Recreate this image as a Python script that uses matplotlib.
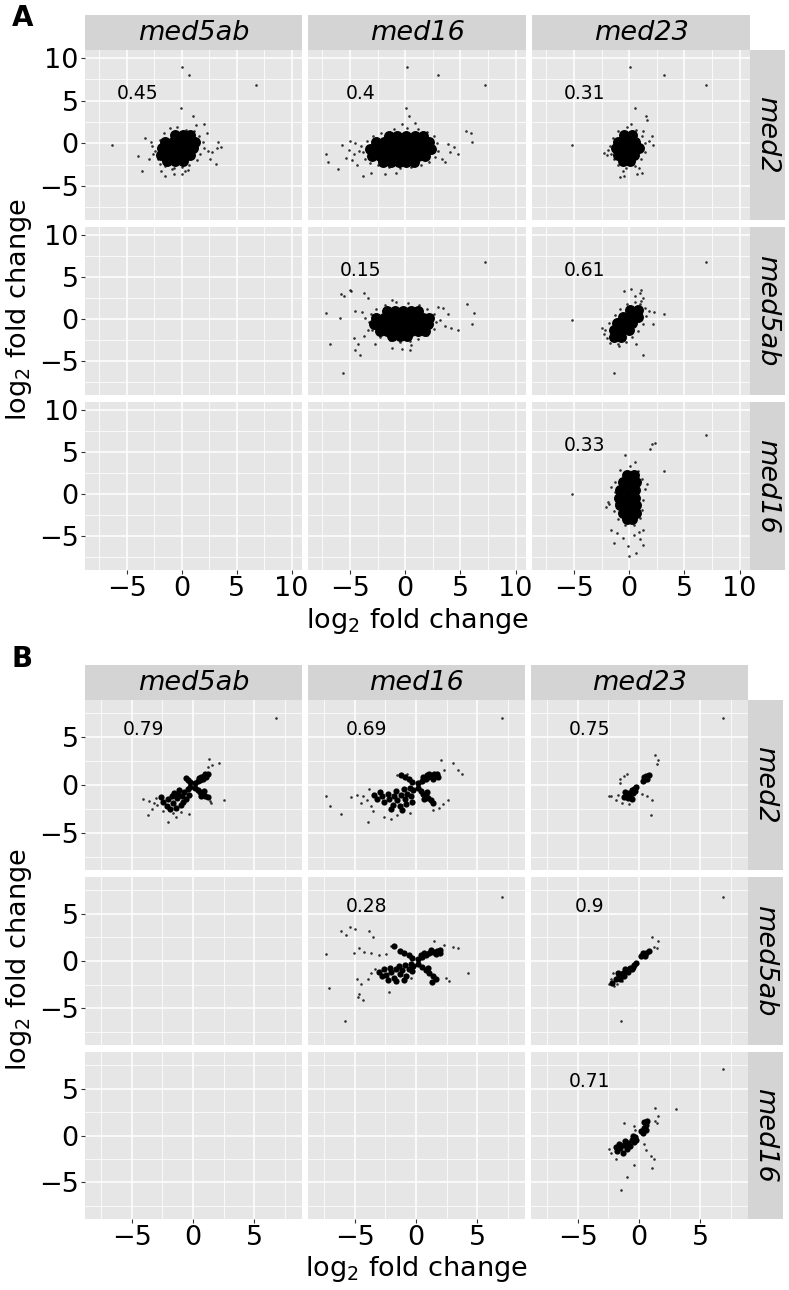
import numpy as np
import matplotlib.pyplot as plt

plt.rcParams['font.family'] = ['DejaVu Sans']
plt.rcParams['mathtext.fontset'] = 'dejavusans'

# ---------------- data (log2 fold change pairs) ----------------
col_genes = ['med5ab', 'med16', 'med23']
row_genes = ['med2', 'med5ab', 'med16']

# correlation labels, panel (row, col) -> text
corr_A = {(0, 0): '0.45', (0, 1): '0.4', (0, 2): '0.31', (1, 1): '0.15', (1, 2): '0.61', (2, 2): '0.33'}
corr_B = {(0, 0): '0.79', (0, 1): '0.69', (0, 2): '0.75', (1, 1): '0.28', (1, 2): '0.9', (2, 2): '0.71'}

# panel A, dense cores and sparse points
a11_core = [(-0.6, 1.0), (0.1, 1.0), (0.8, 1.0),
            (-1.5, 0.2), (-0.8, 0.2), (-0.1, 0.2), (0.6, 0.2), (1.2, 0.2),
            (-1.8, -0.6), (-1.1, -0.6), (-0.4, -0.6), (0.3, -0.6), (1.0, -0.6),
            (-1.9, -1.4), (-1.2, -1.4), (-0.5, -1.4), (0.2, -1.4), (0.8, -1.4),
            (-1.3, -2.1), (-0.6, -2.1), (0.1, -2.1)]
a11_pts = [(-2.4, -0.9), (-2.2, -1.8), (-2.6, -1.2), (-2.0, 0.4), (-1.6, 1.2), (-1.1, 1.8), (-0.4, 1.9),
           (0.4, 1.6), (1.1, 1.4), (1.6, 0.9), (1.9, 0.2), (2.0, -0.5), (1.7, -1.2), (1.4, -2.0),
           (0.7, -2.6), (0.0, -2.8), (-0.7, -2.9), (-1.5, -2.7), (-2.0, -2.4), (-2.7, -0.3), (2.3, 1.2),
           (1.3, 2.1), (-0.9, -3.0), (-1.9, -3.3), (0.3, -3.2), (2.4, -0.9), (-3.0, -1.9), (-2.8, 0.1),
           (0.0, 9.0), (0.7, 8.0), (6.8, 6.9), (-0.06, 4.2), (1.0, 3.2), (2.0, 2.3), (-6.3, -0.15),
           (-3.3, 0.6), (-3.6, -3.2), (-4.0, -1.5), (3.6, -0.4), (3.1, -2.4), (3.3, 0.2), (2.8, -1.0),
           (-1.5, -3.8), (-0.7, -3.6), (0.0, -3.6), (0.6, -3.1), (3.2, -0.6), (2.6, -1.9)]

a12_core = [(-1.5, 0.9), (-0.7, 0.9), (0.1, 0.9), (0.9, 0.9), (1.6, 0.9),
            (-2.6, 0.1), (-1.9, 0.1), (-1.2, 0.1), (-0.5, 0.1), (0.2, 0.1), (0.9, 0.1), (1.6, 0.1), (2.2, 0.1),
            (-3.2, -0.7), (-2.5, -0.7), (-1.8, -0.7), (-1.1, -0.7), (-0.4, -0.7), (0.3, -0.7), (1.0, -0.7),
            (1.7, -0.7), (2.3, -0.7),
            (-3.0, -1.5), (-2.3, -1.5), (-1.6, -1.5), (-0.9, -1.5), (-0.2, -1.5), (0.5, -1.5), (1.2, -1.5),
            (1.8, -1.5),
            (-2.0, -2.2), (-1.3, -2.2), (-0.6, -2.2), (0.1, -2.2), (0.8, -2.2)]
a12_pts = [(-3.8, -1.0), (-4.0, -0.3), (-3.6, -1.8), (-3.5, 0.3), (-2.9, 0.9), (-2.2, 1.2), (-1.0, 1.7),
           (0.2, 1.8), (1.2, 1.7), (2.0, 1.3), (2.6, 0.8), (2.9, 0.0), (3.0, -0.9), (2.7, -1.6), (2.2, -2.2),
           (1.4, -2.6), (0.5, -2.8), (-0.5, -2.9), (-1.5, -2.8), (-2.5, -2.6), (-3.2, -2.3), (-0.3, 2.3),
           (0.9, 2.4),
           (0.2, 9.0), (3.0, 8.0), (7.2, 6.9), (0.1, 4.2), (0.33, 3.2), (5.5, 1.4), (6.0, 1.25), (6.1, 0.1),
           (4.8, -1.3), (4.4, -0.4), (3.6, -2.2), (3.9, -0.1), (4.1, -1.0), (3.3, -1.8), (-7.2, -1.3),
           (-7.0, -2.2), (-6.1, -3.0), (-5.7, -0.15), (-5.0, 0.3), (-3.8, -3.8), (-4.8, -2.0), (-5.4, -1.7),
           (-4.2, -0.9), (-4.6, -1.2), (-5.1, -0.8), (-4.4, -2.6), (-3.1, -3.5), (-1.8, -3.6), (-0.8, -3.5),
           (-4.5, 0.0)]

a13_core = [(-0.5, 1.0), (0.3, 1.0),
            (-1.0, 0.2), (-0.3, 0.2), (0.5, 0.2),
            (-1.2, -0.6), (-0.5, -0.6), (0.2, -0.6), (0.9, -0.6),
            (-1.0, -1.4), (-0.3, -1.4), (0.4, -1.4),
            (-0.6, -2.1), (0.1, -2.1)]
a13_pts = [(-1.7, -0.3), (-1.6, -1.2), (-1.5, 0.6), (-1.0, 1.5), (-0.2, 1.9), (0.6, 1.6), (1.2, 0.9),
           (1.4, 0.0), (1.4, -1.0), (1.1, -1.9), (0.5, -2.7), (-0.3, -2.9), (-1.0, -2.6), (-1.4, -1.9),
           (-1.9, -0.8), (0.9, -2.9), (-0.6, -3.3), (1.3, 1.5), (0.2, 2.3), (-2.0, -1.4),
           (0.05, 9.0), (3.2, 8.0), (7.0, 6.9), (-5.2, -0.2), (0.5, 4.2), (1.5, 3.2), (1.6, 2.7),
           (2.2, -0.15), (2.1, 0.9), (-2.3, -1.1), (-0.8, -4.0), (0.7, -3.6), (1.2, -3.5), (-0.5, -3.8),
           (1.8, 0.3)]

a22_core = [(-1.6, 1.0), (-0.9, 1.0), (-0.2, 1.0), (0.5, 1.0), (1.2, 1.0),
            (-2.6, 0.2), (-1.9, 0.2), (-1.2, 0.2), (-0.5, 0.2), (0.2, 0.2), (0.9, 0.2), (1.6, 0.2), (2.2, 0.2),
            (-2.8, -0.6), (-2.1, -0.6), (-1.4, -0.6), (-0.7, -0.6), (0.0, -0.6), (0.7, -0.6), (1.4, -0.6),
            (2.1, -0.6),
            (-2.3, -1.4), (-1.6, -1.4), (-0.9, -1.4), (-0.2, -1.4), (0.5, -1.4), (1.2, -1.4), (1.8, -1.4),
            (-1.2, -2.0), (-0.5, -2.0), (0.2, -2.0)]
a22_pts = [(-3.3, -0.3), (-3.1, 0.6), (-2.6, 1.2), (-1.8, 1.7), (-0.8, 2.0), (0.3, 1.9), (1.3, 1.7),
           (2.0, 1.2), (2.6, 0.6), (2.8, -0.3), (2.6, -1.2), (2.0, -1.9), (1.2, -2.3), (0.4, -2.6),
           (-0.5, -2.7), (-1.4, -2.5), (-2.3, -2.1), (-3.0, -1.3), (-1.2, 2.3), (0.5, -3.1),
           (-7.15, 0.7), (-6.85, -2.9), (-5.6, -6.4), (-5.9, 0.1), (-5.8, 3.05), (-5.5, 2.7), (-5.0, 3.5),
           (-4.9, 3.4), (-3.7, 3.1), (-3.4, 2.5), (-4.5, 1.0), (-3.9, 0.8), (-4.6, -2.2), (-4.3, -2.9),
           (-4.1, -4.2), (-4.5, -3.6), (-3.7, -2.0), (-3.4, -1.3), (-2.7, -3.0), (3.0, 1.45), (3.45, 1.35),
           (3.9, 0.6), (3.6, -0.8), (4.2, -1.1), (4.8, -1.3), (5.6, 1.8), (6.2, 0.7), (6.1, -0.6),
           (7.2, 6.75), (0.4, -3.7), (-0.3, -3.5), (-1.2, -3.4), (3.2, -0.1), (-3.6, 0.2)]

a23_core = [(0.1, 1.1), (0.8, 1.1),
            (-0.6, 0.3), (0.1, 0.3), (0.8, 0.3),
            (-1.1, -0.5), (-0.4, -0.5), (0.3, -0.5),
            (-1.4, -1.3), (-0.7, -1.3), (0.0, -1.3),
            (-1.4, -2.1), (-0.7, -2.1)]
a23_pts = [(-2.2, -1.3), (-2.0, -2.2), (-1.8, -0.4), (-1.3, 0.5), (-0.8, 1.2), (-0.2, 1.8), (0.5, 2.0),
           (1.1, 2.2), (1.4, 1.3), (1.5, 0.4), (1.3, -0.6), (0.8, -1.4), (0.3, -2.1), (-0.3, -2.7),
           (-1.0, -2.9), (-1.7, -2.8), (-2.3, -1.8), (1.8, 1.0), (-0.9, -3.2), (0.6, -2.9), (0.5, 2.8),
           (1.0, 1.8),
           (7.0, 6.75), (-5.2, -0.1), (-1.35, -6.4), (1.25, -4.2), (3.15, 0.6), (2.25, 0.9), (2.2, -0.6),
           (0.2, 3.6), (1.1, 3.5), (0.95, 3.1), (1.3, 2.5), (-0.5, 3.3), (-2.5, -1.0)]

a33_core = [(-0.2, 2.3), (0.4, 2.3),
            (-0.6, 1.4), (0.0, 1.4), (0.6, 1.4),
            (-0.8, 0.5), (-0.1, 0.5), (0.5, 0.5),
            (-0.9, -0.4), (-0.2, -0.4), (0.5, -0.4),
            (-0.8, -1.3), (-0.1, -1.3), (0.6, -1.3),
            (-0.6, -2.2), (0.1, -2.2), (0.6, -2.2),
            (-0.2, -3.0), (0.3, -3.0)]
a33_pts = [(-1.3, 0.3), (-1.2, -1.0), (-1.3, 1.5), (-0.8, 2.9), (0.1, 3.3), (0.8, 2.8), (1.2, 1.8),
           (1.4, 0.6), (1.3, -0.7), (1.2, -1.9), (1.0, -2.8), (0.4, -3.6), (-0.4, -3.7), (-1.0, -3.0),
           (-1.4, -2.0), (-1.8, -1.2), (-2.1, -1.5), (-1.9, -0.9), (0.5, 3.8), (1.6, 1.2), (-1.6, 0.9),
           (7.0, 7.0), (-5.2, 0.0), (1.9, 5.4), (2.1, 6.0), (2.3, 6.05), (3.15, 2.75), (-0.35, 4.6),
           (-1.35, -5.8), (-0.1, -6.1), (0.65, -7.0), (0.0, -7.3), (1.25, -6.0), (0.95, -5.35),
           (-1.1, -4.6), (0.4, -4.8), (-0.6, -5.2), (1.3, -4.2), (-1.6, -4.3), (0.9, -4.5)]

# panel B
b11_core = [(-2.4, -1.8), (-2.0, -1.5), (-2.1, -2.2), (-1.7, -1.2), (-1.6, -1.9), (-1.3, -1.4), (-1.2, -0.9),
            (-1.0, -2.1), (-0.9, -1.2), (-0.7, -0.7), (-0.6, -1.5), (-0.4, -0.4), (-0.3, -1.0), (-0.2, -0.2),
            (-1.5, -0.8), (-1.9, -2.5), (-1.4, -2.4), (-0.8, -1.8), (-2.6, -1.3), (-1.1, -0.5),
            (0.2, 0.2), (0.4, 0.4), (0.6, 0.5), (0.7, 0.8), (0.9, 0.9), (1.0, 1.1), (1.2, 1.2), (0.5, 0.7),
            (0.8, 0.6), (1.1, 0.8),
            (0.2, -0.3), (0.4, -0.5), (0.6, -0.7), (0.8, -0.9), (1.0, -1.1), (1.2, -1.3), (0.9, -0.6),
            (0.7, -1.1), (-0.2, 0.3), (-0.4, 0.5), (-0.6, 0.7)]
b11_pts = [(6.8, 7.0), (-4.1, -1.5), (-3.7, -3.1), (-2.0, -3.9), (-1.4, -3.3), (-2.4, -2.7), (-1.0, -2.8),
           (2.55, -1.6), (2.1, 2.3), (1.35, 2.7), (1.55, 2.1), (1.2, 1.85), (-3.6, -1.7), (-3.2, -1.9),
           (-2.9, -2.1), (-3.0, -1.4), (1.4, -1.7), (1.5, -1.9), (-0.3, -3.0), (-1.6, -2.9), (-3.3, -2.5)]

b12_core = [(-3.2, -1.5), (-2.8, -1.2), (-2.6, -1.8), (-2.3, -0.9), (-2.2, -1.5), (-1.9, -2.1), (-1.8, -1.1),
            (-1.6, -0.6), (-1.5, -1.6), (-1.3, -2.2), (-1.2, -1.0), (-1.0, -0.4), (-0.9, -1.5), (-0.7, -0.9),
            (-0.5, -0.3), (-0.4, -1.2), (-0.2, -0.5), (-2.9, -0.7), (-3.4, -1.0), (-2.0, -2.5), (-0.8, -2.0),
            (-1.1, -2.6), (-0.3, -1.8),
            (0.2, 0.2), (0.5, 0.4), (0.8, 0.6), (1.0, 0.8), (1.3, 0.9), (1.5, 1.1), (1.7, 1.2), (0.6, 0.8),
            (1.1, 1.2), (1.4, 0.6), (1.8, 0.8), (0.9, 1.0),
            (0.2, -0.3), (0.4, -0.6), (0.6, -0.9), (0.8, -1.1), (1.0, -1.4), (1.2, -1.6), (0.9, -0.7),
            (1.4, -1.9), (0.7, -1.5),
            (-0.3, 0.3), (-0.6, 0.6), (-0.9, 0.8), (-1.2, 1.0)]
b12_pts = [(7.05, 7.0), (-7.3, -1.2), (-7.0, -2.2), (-6.1, -3.0), (-4.8, -1.05), (-4.3, -1.2), (-3.9, -3.9),
           (-4.0, -1.6), (-3.7, -2.2), (-4.5, -1.9), (-3.5, -2.7), (-2.6, -3.3), (-2.0, -3.6), (-1.5, -3.1),
           (-3.8, -0.4), (-5.3, -1.3), (2.05, 2.6), (3.0, 2.3), (3.4, 1.6), (3.8, 1.15), (2.6, -1.6),
           (1.4, -2.6), (2.2, -2.0), (-1.5, 1.05), (-0.7, 1.15), (2.3, 1.6), (1.9, -2.4), (-0.5, -2.9)]

b13_core = [(-1.2, -1.3), (-1.0, -1.0), (-0.8, -0.8), (-0.6, -0.5), (-0.4, -0.4), (-0.2, -0.2), (-0.9, -1.4),
            (-0.7, -1.1), (-0.5, -0.8), (-1.1, -0.7), (-0.3, -0.6), (-0.6, -1.5),
            (0.3, 0.4), (0.5, 0.6), (0.6, 0.9), (0.8, 1.0), (0.4, 0.8), (0.7, 0.6)]
b13_pts = [(6.9, 7.0), (1.3, 3.15), (1.55, 2.6), (1.5, 2.2), (0.95, -3.15), (-2.45, -1.15), (-2.25, -1.2),
           (-0.95, 1.2), (-1.2, 0.9), (-1.5, 0.6), (-1.55, 0.2), (0.25, -0.9), (0.7, -1.2), (1.1, -1.6),
           (-1.4, -1.9), (-1.7, -1.0), (-0.8, -2.0), (-1.9, -1.6)]

b22_core = [(-3.0, -1.2), (-2.6, -0.9), (-2.4, -1.5), (-2.1, -0.7), (-2.0, -1.2), (-1.8, -1.8), (-1.6, -0.9),
            (-1.4, -0.5), (-1.3, -1.4), (-1.1, -1.0), (-0.9, -0.4), (-0.8, -1.6), (-0.6, -0.8), (-0.4, -0.3),
            (-0.3, -1.1), (-0.2, -0.5), (-2.8, -1.6), (-1.6, -2.1), (-1.0, -2.0), (-2.3, -2.0),
            (0.2, 0.2), (0.5, 0.4), (0.8, 0.6), (1.1, 0.8), (1.4, 1.0), (1.7, 1.1), (2.0, 1.2), (0.7, 0.8),
            (1.2, 1.2), (1.6, 0.7), (2.0, 0.8), (0.4, 0.6),
            (0.2, -0.3), (0.5, -0.6), (0.8, -1.0), (1.1, -1.3), (1.4, -1.6), (1.6, -1.9), (1.0, -0.7),
            (1.3, -2.2),
            (-0.3, 0.3), (-0.6, 0.6), (-1.0, 0.9), (-1.3, 1.1), (-1.75, 1.57)]
b22_pts = [(7.05, 6.8), (-7.3, 0.7), (-7.05, -2.85), (-5.8, -6.4), (-6.1, 3.15), (-5.7, 2.8), (-5.35, 3.55),
           (-5.0, 3.4), (-3.8, 3.15), (-3.5, 2.5), (-5.05, 0.85), (-4.6, 1.33), (-4.2, 0.97), (-3.65, 0.8),
           (-2.97, 0.63), (-4.8, -1.93), (-4.5, -2.45), (-4.6, -3.5), (-4.3, -4.1), (-4.7, -3.85),
           (-3.9, -1.93), (-3.7, -1.23), (-2.2, -3.3), (-2.4, 0.7), (-2.0, 1.55), (1.5, 2.1), (3.0, 1.45),
           (3.4, 1.4), (2.45, -1.75), (2.7, -2.1), (4.25, -1.23), (-0.4, -1.75), (-3.3, -0.9), (2.3, 1.7)]

b23_core = [(-2.2, -2.3), (-1.9, -1.9), (-1.6, -1.6), (-1.3, -1.3), (-1.0, -1.0), (-0.7, -0.7), (-0.4, -0.4),
            (-0.2, -0.2), (-1.5, -1.9), (-1.2, -1.6), (-0.9, -1.2), (-0.6, -0.9), (-1.7, -1.3), (-1.1, -0.8),
            (-0.5, -0.6),
            (0.2, 0.5), (0.4, 0.7), (0.6, 0.9), (0.8, 1.1), (0.5, 0.5), (0.3, 0.9)]
b23_pts = [(6.9, 6.8), (-1.45, -6.4), (1.1, 2.5), (1.55, 2.1), (1.45, 1.35), (1.2, 1.45), (-2.3, -1.93),
           (-2.1, -1.23), (-1.8, -2.45), (-1.4, -2.1), (-2.45, -2.45), (-2.0, -2.7)]

b33_core = [(-1.8, -1.6), (-1.5, -1.3), (-1.2, -1.0), (-0.9, -0.8), (-0.6, -0.5), (-0.3, -0.2), (-1.6, -0.9),
            (-1.3, -1.9), (-1.0, -1.4), (-0.7, -1.1), (-0.4, -0.7), (-1.9, -1.2), (-0.2, -0.5), (-1.1, -0.6),
            (-0.5, 0.0),
            (0.2, 0.5), (0.4, 0.8), (0.6, 1.1), (0.4, 1.4), (0.7, 1.5), (0.3, 0.3), (0.6, 0.6)]
b33_pts = [(6.9, 7.1), (3.0, 2.85), (1.35, 2.9), (1.55, 2.1), (1.5, 1.33), (1.35, 1.5), (-1.2, 1.33),
           (-1.45, -5.85), (-0.95, -4.45), (-0.4, -3.15), (1.1, -3.5), (0.95, -2.15), (1.2, -2.5),
           (0.4, -0.95), (0.55, -1.5), (-2.45, -1.4), (-2.3, -1.9), (-1.9, -2.5), (-0.4, 1.0), (-0.3, 0.6)]

pts_A = {(0, 0): (a11_core, a11_pts), (0, 1): (a12_core, a12_pts), (0, 2): (a13_core, a13_pts),
         (1, 1): (a22_core, a22_pts), (1, 2): (a23_core, a23_pts), (2, 2): (a33_core, a33_pts)}
pts_B = {(0, 0): (b11_core, b11_pts), (0, 1): (b12_core, b12_pts), (0, 2): (b13_core, b13_pts),
         (1, 1): (b22_core, b22_pts), (1, 2): (b23_core, b23_pts), (2, 2): (b33_core, b33_pts)}

# ---------------- layout (pixels) ----------------
W, H = 789, 1290
fig = plt.figure(figsize=(W / 100, H / 100), dpi=100)

def rect(x0, x1, y0, y1):
    return [x0 / W, 1 - y1 / H, (x1 - x0) / W, (y1 - y0) / H]

panel_bg = '#E6E6E6'
strip_bg = '#D4D4D4'
fs_tick = 19.5
fs_strip = 19.5

blocks = [
    dict(letter='A', ly=26, cols=[(85, 302), (308, 526), (532, 750)],
         rows=[(50, 220), (227, 395), (402, 570)], strip=(15, 50), rstrip=(750, 785),
         xlim=(-8.8, 10.95), ylim=(-9.0, 10.95), major=[-5, 0, 5, 10],
         corr=corr_A, pts=pts_A, core_s=62, xlab_y=621, ylab_y=310),
    dict(letter='B', ly=667, cols=[(85, 302), (308, 525), (531, 748)],
         rows=[(700, 870), (877, 1045), (1052, 1219)], strip=(665, 700), rstrip=(748, 783),
         xlim=(-8.8, 8.9), ylim=(-8.9, 8.9), major=[-5, 0, 5],
         corr=corr_B, pts=pts_B, core_s=20, xlab_y=1269, ylab_y=960),
]
minor = [-7.5, -2.5, 2.5, 7.5]

for bl in blocks:
    for i, (y0, y1) in enumerate(bl['rows']):
        for j, (x0, x1) in enumerate(bl['cols']):
            ax = fig.add_axes(rect(x0, x1, y0, y1))
            ax.set_facecolor(panel_bg)
            for s in ax.spines.values():
                s.set_visible(False)
            ax.set_xlim(bl['xlim'])
            ax.set_ylim(bl['ylim'])
            ax.set_xticks(bl['major'])
            ax.set_yticks(bl['major'])
            ax.set_xticks(minor, minor=True)
            ax.set_yticks(minor, minor=True)
            ax.grid(which='major', color='white', lw=1.1)
            ax.grid(which='minor', color='white', lw=0.55)
            ax.set_axisbelow(True)
            ax.tick_params(which='minor', length=0)
            ax.tick_params(which='major', direction='out', length=3, width=0.8, color='#333333',
                           labelsize=fs_tick, pad=1.5, labelcolor='black')
            if j != 0:
                ax.tick_params(axis='y', which='major', length=0, labelleft=False)
            if i != 2:
                ax.tick_params(axis='x', which='major', length=0, labelbottom=False)
            if (i, j) in bl['pts']:
                core, sparse = bl['pts'][(i, j)]
                cx, cy = zip(*core)
                sx, sy = zip(*sparse)
                ax.scatter(cx, cy, s=bl['core_s'], color='black', alpha=1.0, lw=0, zorder=3)
                ax.scatter(sx, sy, s=3.5, color='black', alpha=0.8, lw=0, zorder=3)
                ax.text(-4, 5.8, bl['corr'][(i, j)], fontsize=13.5, ha='center', va='center', zorder=4)
    # top strips
    for j, (x0, x1) in enumerate(bl['cols']):
        sa = fig.add_axes(rect(x0, x1, bl['strip'][0], bl['strip'][1]))
        sa.set_facecolor(strip_bg)
        sa.set_xticks([]); sa.set_yticks([])
        for s in sa.spines.values():
            s.set_visible(False)
        sa.text(0.5, 0.48, col_genes[j], transform=sa.transAxes, ha='center', va='center',
                fontsize=fs_strip, style='italic')
    # right strips
    for i, (y0, y1) in enumerate(bl['rows']):
        sa = fig.add_axes(rect(bl['rstrip'][0], bl['rstrip'][1], y0, y1))
        sa.set_facecolor(strip_bg)
        sa.set_xticks([]); sa.set_yticks([])
        for s in sa.spines.values():
            s.set_visible(False)
        sa.text(0.5, 0.5, row_genes[i], transform=sa.transAxes, ha='center', va='center',
                fontsize=fs_strip, style='italic', rotation=-90)
    # axis titles and panel letter
    cx = (bl['cols'][0][0] + bl['cols'][2][1]) / 2
    fig.text(cx / W, 1 - bl['xlab_y'] / H, 'log$_2$ fold change', ha='center', va='center', fontsize=fs_tick)
    fig.text(19 / W, 1 - bl['ylab_y'] / H, 'log$_2$ fold change', ha='center', va='center',
             rotation=90, fontsize=fs_tick)
    fig.text(12 / W, 1 - bl['ly'] / H, bl['letter'], ha='left', va='baseline', fontsize=20, fontweight='bold')

fig.savefig('out.png', dpi=100)
